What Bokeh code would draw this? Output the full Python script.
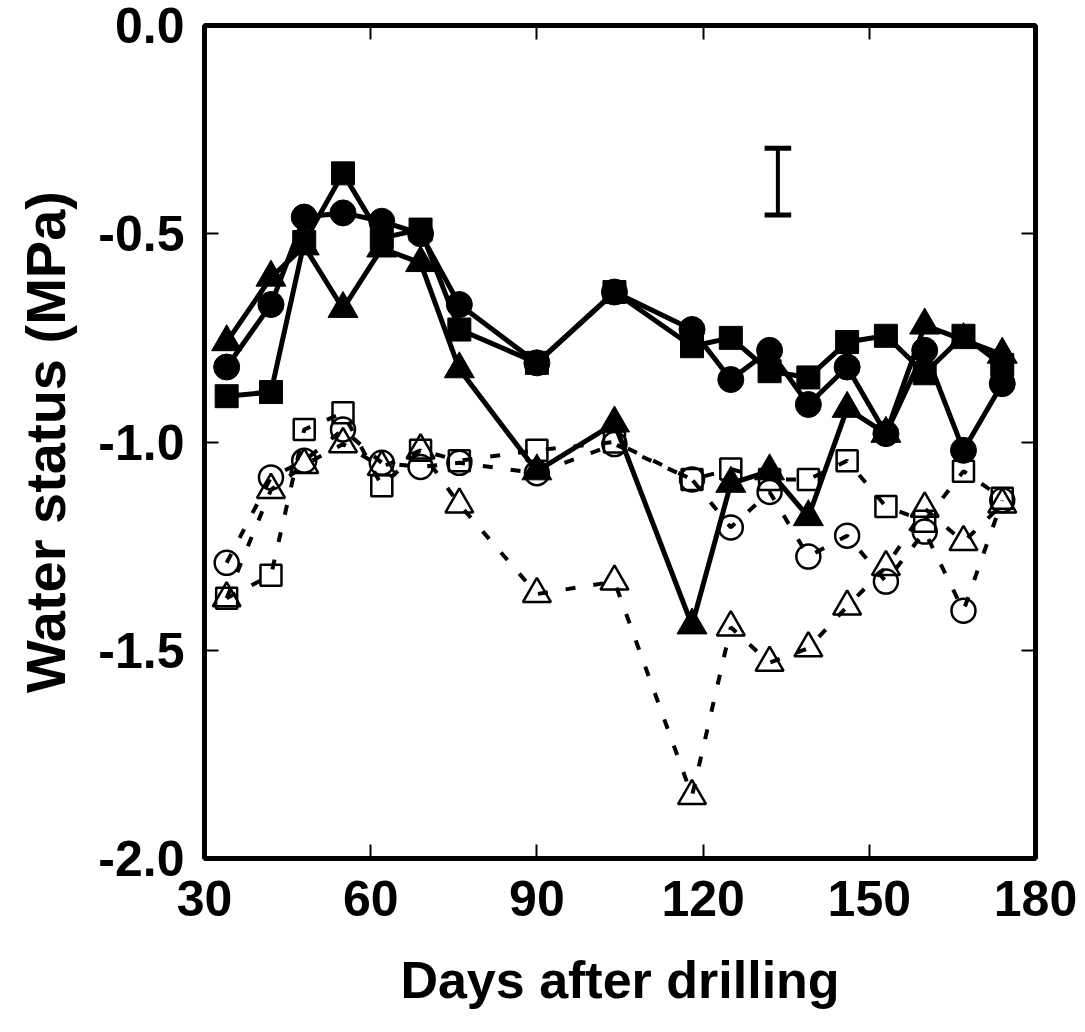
from bokeh.plotting import figure
from bokeh.models import LinearAxis, FixedTicker, Range1d, CustomJSTickFormatter
from bokeh.embed import file_html
from bokeh.resources import INLINE

days = [34, 42, 48, 55, 62, 69, 76, 90, 104, 118, 125, 132, 139, 146, 153, 160, 167, 174]

circle_filled = [-0.82, -0.67, -0.46, -0.45, -0.47, -0.50, -0.67, -0.81, -0.64, -0.73, -0.85,
                 -0.78, -0.91, -0.82, -0.98, -0.78, -1.02, -0.86]
square_filled = [-0.89, -0.88, -0.52, -0.355, -0.51, -0.49, -0.73, -0.81, -0.64, -0.77, -0.75,
                 -0.83, -0.845, -0.76, -0.745, -0.835, -0.745, -0.815]
triangle_filled = [-0.76, -0.605, -0.53, -0.68, -0.535, -0.57, -0.825, -1.07, -0.955, -1.44, -1.10,
                   -1.07, -1.18, -0.92, -0.98, -0.72, -0.755, -0.79]

circle_open = [-1.29, -1.085, -1.045, -0.97, -1.05, -1.06, -1.05, -1.075, -1.005, -1.09, -1.205,
               -1.12, -1.275, -1.225, -1.335, -1.215, -1.405, -1.14]
square_open = [-1.375, -1.32, -0.97, -0.93, -1.105, -1.02, -1.045, -1.02, -1.0, -1.09, -1.065,
               -1.09, -1.09, -1.045, -1.155, -1.19, -1.07, -1.135]
triangle_open = [-1.375, -1.115, -1.055, -1.005, -1.06, -1.02, -1.15, -1.365, -1.335, -1.85, -1.445,
                 -1.53, -1.495, -1.395, -1.30, -1.16, -1.24, -1.15]

err_day = [133.5]
err_low = [-0.455]
err_high = [-0.295]

x_ticks = [30, 60, 90, 120, 150, 180]
y_ticks = [0.0, -0.5, -1.0, -1.5, -2.0]

FONT = "Liberation Sans"

p = figure(width=1085, height=1032, output_backend="svg", toolbar_location=None,
           x_range=Range1d(30, 180), y_range=Range1d(-2.0, 0.0),
           min_border_left=204, min_border_right=50, min_border_top=25, min_border_bottom=174)
p.xgrid.visible = False
p.ygrid.visible = False
p.outline_line_color = "black"
p.outline_line_width = 5
p.background_fill_color = "white"
p.border_fill_color = "white"

p.xaxis.ticker = FixedTicker(ticks=x_ticks)
p.yaxis.ticker = FixedTicker(ticks=y_ticks)
p.yaxis.formatter = CustomJSTickFormatter(code="return tick.toFixed(1);")

for ax in (p.xaxis[0], p.yaxis[0]):
    ax.axis_line_color = None
    ax.major_tick_in = 14
    ax.major_tick_out = 0
    ax.major_tick_line_width = 2
    ax.minor_tick_line_color = None
    ax.major_label_text_font = FONT
    ax.major_label_text_font_style = "bold"
    ax.major_label_text_font_size = "50px"
    ax.axis_label_text_font = FONT
    ax.axis_label_text_font_style = "bold"
    ax.axis_label_text_color = "black"
    ax.major_label_text_color = "black"

p.xaxis.axis_label = "Days after drilling"
p.yaxis.axis_label = "Water status (MPa)"
p.xaxis.axis_label_text_font_size = "52px"
p.yaxis.axis_label_text_font_size = "56px"
p.xaxis.major_label_standoff = 22
p.yaxis.major_label_standoff = 20
p.xaxis.axis_label_standoff = 32
p.yaxis.axis_label_standoff = 18

top = LinearAxis(ticker=FixedTicker(ticks=x_ticks))
right = LinearAxis(ticker=FixedTicker(ticks=y_ticks))
for ax in (top, right):
    ax.axis_line_color = None
    ax.major_tick_in = 14
    ax.major_tick_out = 0
    ax.major_tick_line_width = 2
    ax.minor_tick_line_color = None
    ax.major_label_text_font_size = "0px"
    ax.major_label_standoff = 0
p.add_layout(top, "above")
p.add_layout(right, "right")

# open series with dashed lines
dash = "10 18"
for ys in (circle_open, square_open, triangle_open):
    p.line(days, ys, line_color="black", line_width=4, line_dash=dash)
p.scatter(days, circle_open, marker="circle", size=24, fill_color=None, line_color="black", line_width=2.5)
p.scatter(days, square_open, marker="square", size=21, fill_color=None, line_color="black", line_width=2.5)
p.scatter(days, triangle_open, marker="triangle", size=28, fill_color=None, line_color="black", line_width=2.5)

# filled series with solid lines
for ys in (circle_filled, square_filled, triangle_filled):
    p.line(days, ys, line_color="black", line_width=5)
p.scatter(days, circle_filled, marker="circle", size=26, fill_color="black", line_color="black")
p.scatter(days, square_filled, marker="square", size=23, fill_color="black", line_color="black")
p.scatter(days, triangle_filled, marker="triangle", size=30, fill_color="black", line_color="black")

# error bar
p.segment(x0=err_day, y0=err_low, x1=err_day, y1=err_high, line_color="black", line_width=4)
p.segment(x0=[d - 2.4 for d in err_day], y0=err_low, x1=[d + 2.4 for d in err_day], y1=err_low,
          line_color="black", line_width=5)
p.segment(x0=[d - 2.4 for d in err_day], y0=err_high, x1=[d + 2.4 for d in err_day], y1=err_high,
          line_color="black", line_width=5)

open("out.html", "w").write(file_html(p, INLINE))
